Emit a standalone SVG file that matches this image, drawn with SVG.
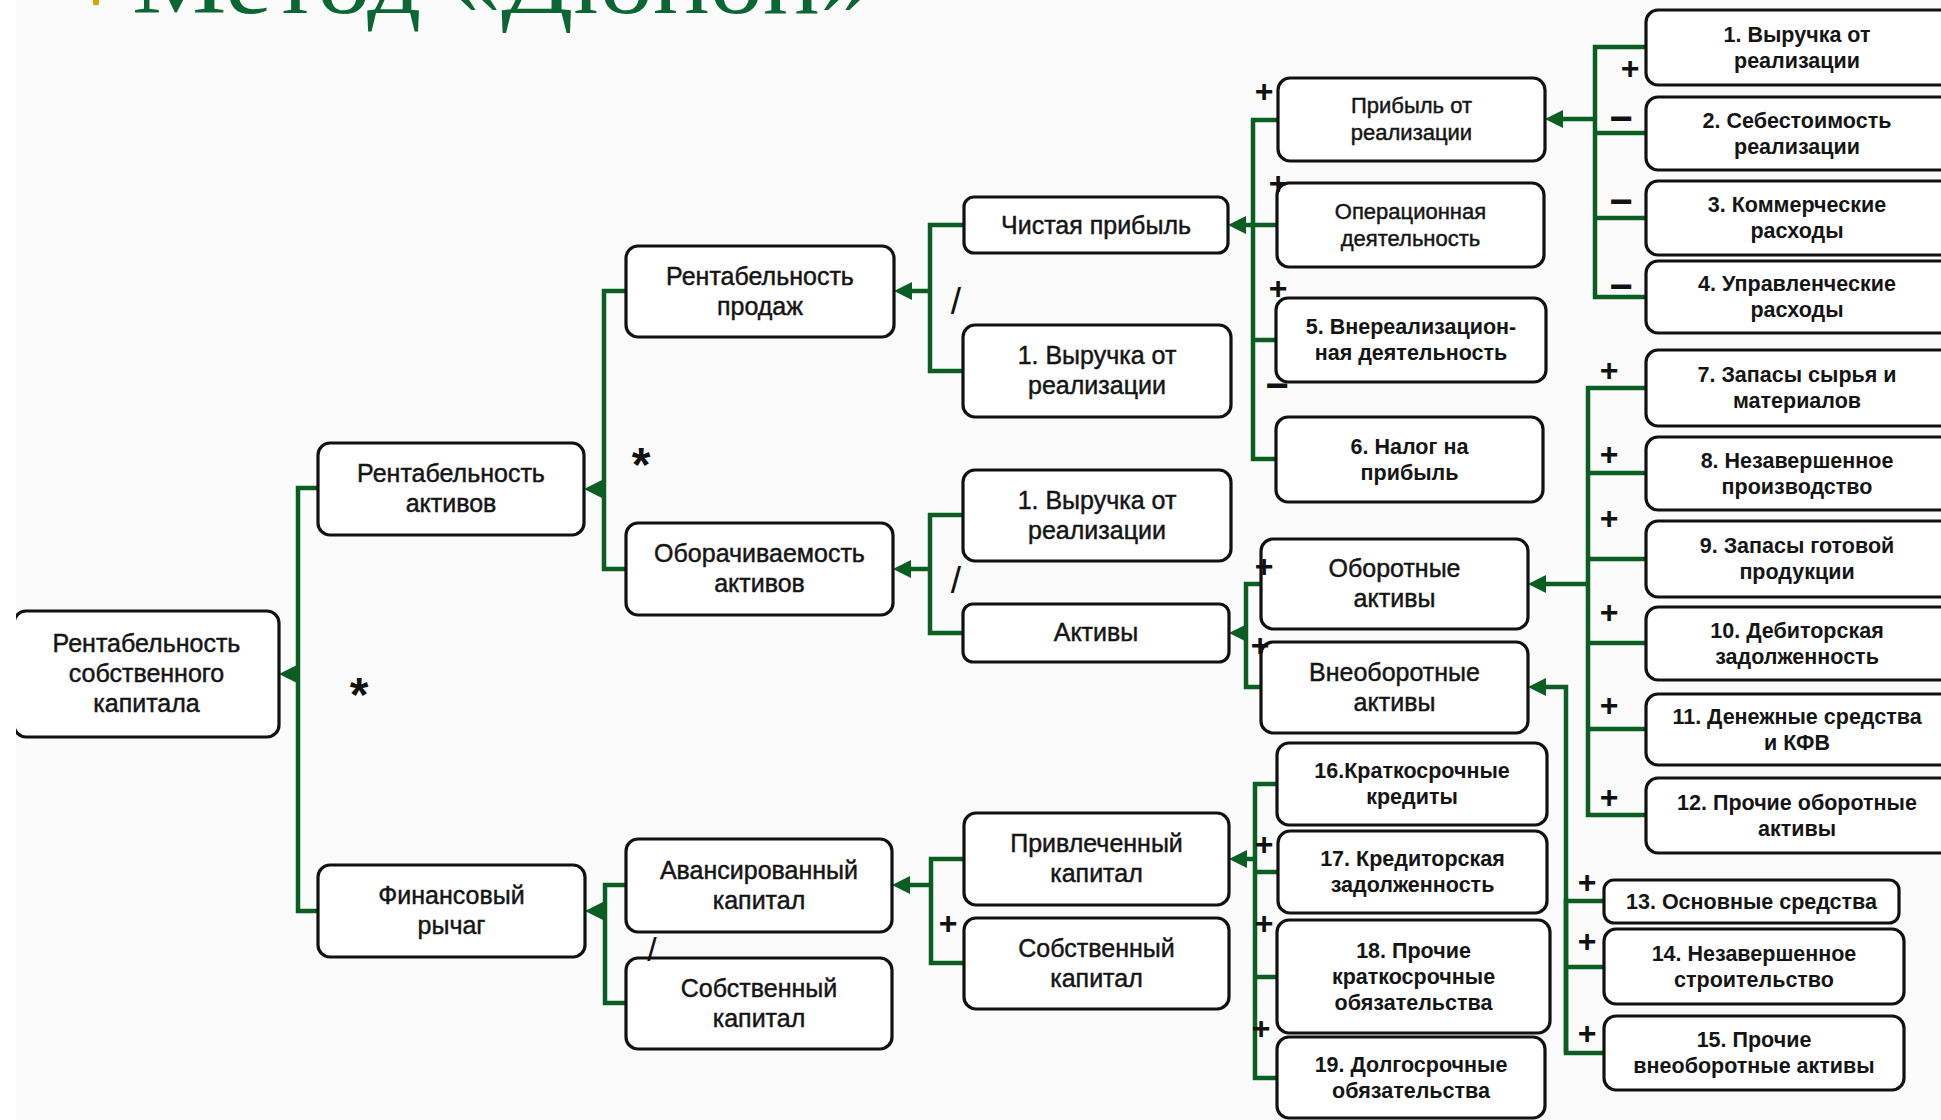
<svg xmlns="http://www.w3.org/2000/svg" width="1941" height="1120" viewBox="0 0 1941 1120">
<style>
.box{fill:#fff;stroke:#111;stroke-width:3.2}
.t25{font-family:"Liberation Sans",Arial,sans-serif;font-size:25px;fill:#151515;stroke:#151515;stroke-width:0.45;text-anchor:middle}
.t22{font-family:"Liberation Sans",Arial,sans-serif;font-size:22px;fill:#151515;stroke:#151515;stroke-width:0.45;text-anchor:middle}
.b20{font-family:"Liberation Sans",Arial,sans-serif;font-size:21.5px;font-weight:bold;fill:#151515;text-anchor:middle}
.sg{font-family:"Liberation Sans",Arial,sans-serif;font-weight:bold;fill:#111;text-anchor:middle}
.pl{font-size:32px}
.mi{font-size:40px}
.st{font-size:48px}
.sl{font-family:"Liberation Sans",Arial,sans-serif;font-size:37px;fill:#111;text-anchor:middle}
.cn{fill:none;stroke:#0b5e22;stroke-width:4.5;stroke-linejoin:miter}
.ar{fill:none;stroke:#0b5e22;stroke-width:4.5;marker-end:url(#arr)}
</style>
<defs>
<marker id="arr" viewBox="0 0 18 18" markerWidth="18" markerHeight="18" refX="6" refY="9" orient="auto" markerUnits="userSpaceOnUse">
<path d="M0,0 L18,9 L0,18 z" fill="#0b5e22"/>
</marker>
</defs>
<rect x="0" y="0" width="1941" height="1120" fill="#fbfbfb"/>
<g id="title">
<rect x="93" y="-3" width="6" height="8" fill="#d9a300"/>
<text x="132" y="13" font-family="Liberation Serif,Times New Roman,serif" font-size="96" fill="#0a6632" textLength="741" lengthAdjust="spacingAndGlyphs">Метод «Дюпон»</text>
</g>
<g id="connectors">
<path class="cn" d="M318,488 H298 V911 H318"/>
<path class="ar" d="M298,674 H291"/>
<path class="cn" d="M626,291 H604 V569 H626"/>
<path class="ar" d="M604,489 H596"/>
<path class="cn" d="M964,225 H930 V371 H963"/>
<path class="ar" d="M930,291 H906"/>
<path class="cn" d="M963,515 H930 V633 H963"/>
<path class="ar" d="M930,569 H905"/>
<path class="cn" d="M626,885 H605 V1003 H626"/>
<path class="ar" d="M605,911 H597"/>
<path class="cn" d="M964,859 H931 V963 H964"/>
<path class="ar" d="M931,885 H904"/>
<path class="cn" d="M1278,120 H1253 V459 H1276 M1253,225 H1277 M1253,340 H1276"/>
<path class="ar" d="M1253,225 H1240"/>
<path class="cn" d="M1646,47 H1595 V297 H1646 M1595,133 H1646 M1595,218 H1646"/>
<path class="ar" d="M1595,119 H1557"/>
<path class="cn" d="M1261,584 H1246 V687 H1261"/>
<path class="ar" d="M1246,633 H1241"/>
<path class="cn" d="M1646,388 H1588 V815 H1646 M1588,473 H1646 M1588,559 H1646 M1588,643 H1646 M1588,729 H1646"/>
<path class="ar" d="M1588,584 H1540"/>
<path class="cn" d="M1604,1053 H1566 V901 H1604 M1566,967 H1604"/>
<path class="ar" d="M1566,1053 V687 H1540"/>
<path class="cn" d="M1277,784 H1255 V1078 H1277 M1255,872 H1278 M1255,977 H1277"/>
<path class="ar" d="M1255,859 H1241"/>
</g>
<g id="n-root"><rect class="box" x="14" y="611" width="265" height="126" rx="12"/><text class="t25"><tspan x="146.5" y="652">Рентабельность</tspan><tspan x="146.5" y="682">собственного</tspan><tspan x="146.5" y="712">капитала</tspan></text></g>
<g id="n-ra"><rect class="box" x="318" y="443" width="266" height="92" rx="12"/><text class="t25"><tspan x="451" y="482">Рентабельность</tspan><tspan x="451" y="512">активов</tspan></text></g>
<g id="n-fr"><rect class="box" x="318" y="865" width="267" height="92" rx="12"/><text class="t25"><tspan x="451.5" y="904">Финансовый</tspan><tspan x="451.5" y="934">рычаг</tspan></text></g>
<g id="n-rp"><rect class="box" x="626" y="246" width="268" height="91" rx="12"/><text class="t25"><tspan x="760" y="284.5">Рентабельность</tspan><tspan x="760" y="314.5">продаж</tspan></text></g>
<g id="n-oa"><rect class="box" x="626" y="523" width="267" height="92" rx="12"/><text class="t25"><tspan x="759.5" y="562">Оборачиваемость</tspan><tspan x="759.5" y="592">активов</tspan></text></g>
<g id="n-ak"><rect class="box" x="626" y="839" width="266" height="93" rx="12"/><text class="t25"><tspan x="759" y="878.5">Авансированный</tspan><tspan x="759" y="908.5">капитал</tspan></text></g>
<g id="n-sk1"><rect class="box" x="626" y="958" width="266" height="91" rx="12"/><text class="t25"><tspan x="759" y="996.5">Собственный</tspan><tspan x="759" y="1026.5">капитал</tspan></text></g>
<g id="n-chp"><rect class="box" x="964" y="197" width="264" height="56" rx="10"/><text class="t25" x="1096" y="234">Чистая прибыль</text></g>
<g id="n-v1a"><rect class="box" x="963" y="325" width="268" height="92" rx="12"/><text class="t25"><tspan x="1097" y="364">1. Выручка от</tspan><tspan x="1097" y="394">реализации</tspan></text></g>
<g id="n-v1b"><rect class="box" x="963" y="470" width="268" height="91" rx="12"/><text class="t25"><tspan x="1097" y="508.5">1. Выручка от</tspan><tspan x="1097" y="538.5">реализации</tspan></text></g>
<g id="n-akt"><rect class="box" x="963" y="604" width="266" height="58" rx="10"/><text class="t25" x="1096" y="641">Активы</text></g>
<g id="n-pk"><rect class="box" x="964" y="813" width="265" height="92" rx="12"/><text class="t25"><tspan x="1096.5" y="852">Привлеченный</tspan><tspan x="1096.5" y="882">капитал</tspan></text></g>
<g id="n-sk2"><rect class="box" x="964" y="918" width="265" height="91" rx="12"/><text class="t25"><tspan x="1096.5" y="956.5">Собственный</tspan><tspan x="1096.5" y="986.5">капитал</tspan></text></g>
<g id="n-pr"><rect class="box" x="1278" y="78" width="267" height="83" rx="12"/><text class="t22"><tspan x="1411.5" y="113">Прибыль от</tspan><tspan x="1411.5" y="140">реализации</tspan></text></g>
<g id="n-oper"><rect class="box" x="1277" y="183" width="267" height="84" rx="12"/><text class="t22"><tspan x="1410.5" y="218.5">Операционная</tspan><tspan x="1410.5" y="245.5">деятельность</tspan></text></g>
<g id="n-vnr"><rect class="box" x="1276" y="298" width="270" height="84" rx="12"/><text class="b20"><tspan x="1411" y="334">5. Внереализацион-</tspan><tspan x="1411" y="360">ная деятельность</tspan></text></g>
<g id="n-nal"><rect class="box" x="1276" y="417" width="267" height="85" rx="12"/><text class="b20"><tspan x="1409.5" y="453.5">6. Налог на</tspan><tspan x="1409.5" y="479.5">прибыль</tspan></text></g>
<g id="n-obor"><rect class="box" x="1261" y="539" width="267" height="90" rx="12"/><text class="t25"><tspan x="1394.5" y="577">Оборотные</tspan><tspan x="1394.5" y="607">активы</tspan></text></g>
<g id="n-vneob"><rect class="box" x="1261" y="642" width="267" height="91" rx="12"/><text class="t25"><tspan x="1394.5" y="680.5">Внеоборотные</tspan><tspan x="1394.5" y="710.5">активы</tspan></text></g>
<g id="n-16"><rect class="box" x="1277" y="743" width="270" height="82" rx="12"/><text class="b20"><tspan x="1412" y="778">16.Краткосрочные</tspan><tspan x="1412" y="804">кредиты</tspan></text></g>
<g id="n-17"><rect class="box" x="1278" y="831" width="269" height="82" rx="12"/><text class="b20"><tspan x="1412.5" y="866">17. Кредиторская</tspan><tspan x="1412.5" y="892">задолженность</tspan></text></g>
<g id="n-18"><rect class="box" x="1277" y="920" width="273" height="113" rx="12"/><text class="b20"><tspan x="1413.5" y="957.5">18. Прочие</tspan><tspan x="1413.5" y="983.5">краткосрочные</tspan><tspan x="1413.5" y="1009.5">обязательства</tspan></text></g>
<g id="n-19"><rect class="box" x="1277" y="1037" width="268" height="81" rx="12"/><text class="b20"><tspan x="1411" y="1071.5">19. Долгосрочные</tspan><tspan x="1411" y="1097.5">обязательства</tspan></text></g>
<g id="n-r1"><rect class="box" x="1646" y="10" width="320" height="75" rx="12"/><text class="b20"><tspan x="1797" y="41.5">1. Выручка от</tspan><tspan x="1797" y="67.5">реализации</tspan></text></g>
<g id="n-r2"><rect class="box" x="1646" y="97" width="320" height="73" rx="12"/><text class="b20"><tspan x="1797" y="127.5">2. Себестоимость</tspan><tspan x="1797" y="153.5">реализации</tspan></text></g>
<g id="n-r3"><rect class="box" x="1646" y="181" width="320" height="74" rx="12"/><text class="b20"><tspan x="1797" y="212">3. Коммерческие</tspan><tspan x="1797" y="238">расходы</tspan></text></g>
<g id="n-r4"><rect class="box" x="1646" y="261" width="320" height="72" rx="12"/><text class="b20"><tspan x="1797" y="291">4. Управленческие</tspan><tspan x="1797" y="317">расходы</tspan></text></g>
<g id="n-r7"><rect class="box" x="1646" y="350" width="320" height="76" rx="12"/><text class="b20"><tspan x="1797" y="382">7. Запасы сырья и</tspan><tspan x="1797" y="408">материалов</tspan></text></g>
<g id="n-r8"><rect class="box" x="1646" y="437" width="320" height="73" rx="12"/><text class="b20"><tspan x="1797" y="467.5">8. Незавершенное</tspan><tspan x="1797" y="493.5">производство</tspan></text></g>
<g id="n-r9"><rect class="box" x="1646" y="521" width="320" height="76" rx="12"/><text class="b20"><tspan x="1797" y="553">9. Запасы готовой</tspan><tspan x="1797" y="579">продукции</tspan></text></g>
<g id="n-r10"><rect class="box" x="1646" y="607" width="320" height="73" rx="12"/><text class="b20"><tspan x="1797" y="637.5">10. Дебиторская</tspan><tspan x="1797" y="663.5">задолженность</tspan></text></g>
<g id="n-r11"><rect class="box" x="1646" y="694" width="320" height="71" rx="12"/><text class="b20"><tspan x="1797" y="723.5">11. Денежные средства</tspan><tspan x="1797" y="749.5">и КФВ</tspan></text></g>
<g id="n-r12"><rect class="box" x="1646" y="778" width="320" height="75" rx="12"/><text class="b20"><tspan x="1797" y="809.5">12. Прочие оборотные</tspan><tspan x="1797" y="835.5">активы</tspan></text></g>
<g id="n-13"><rect class="box" x="1604" y="880" width="295" height="43" rx="10"/><text class="b20" x="1751.5" y="908.5">13. Основные средства</text></g>
<g id="n-14"><rect class="box" x="1604" y="929" width="300" height="75" rx="12"/><text class="b20"><tspan x="1754" y="960.5">14. Незавершенное</tspan><tspan x="1754" y="986.5">строительство</tspan></text></g>
<g id="n-15"><rect class="box" x="1604" y="1016" width="300" height="74" rx="12"/><text class="b20"><tspan x="1754" y="1047">15. Прочие</tspan><tspan x="1754" y="1073">внеоборотные активы</tspan></text></g>
<g id="labels">
<text class="sg st" x="359" y="711">*</text>
<text class="sg st" x="641" y="481">*</text>
<text class="sl" x="956" y="314">/</text>
<text class="sl" x="956" y="593">/</text>
<text class="sl" x="652" y="961" style="font-size:34px">/</text>
<text class="sg pl" x="948" y="934">+</text>
<text class="sg pl" x="1264" y="102">+</text>
<text class="sg pl" x="1278" y="194">+</text>
<text class="sg pl" x="1278" y="299">+</text>
<text class="sg mi" x="1277" y="399">−</text>
<text class="sg pl" x="1630" y="79">+</text>
<text class="sg mi" x="1621" y="132">−</text>
<text class="sg mi" x="1621" y="215">−</text>
<text class="sg mi" x="1621" y="300">−</text>
<text class="sg pl" x="1609" y="381">+</text>
<text class="sg pl" x="1609" y="465">+</text>
<text class="sg pl" x="1609" y="529">+</text>
<text class="sg pl" x="1609" y="623">+</text>
<text class="sg pl" x="1609" y="716">+</text>
<text class="sg pl" x="1609" y="808">+</text>
<text class="sg pl" x="1264" y="577">+</text>
<text class="sg pl" x="1260" y="656">+</text>
<text class="sg pl" x="1587" y="893">+</text>
<text class="sg pl" x="1587" y="952">+</text>
<text class="sg pl" x="1587" y="1044">+</text>
<text class="sg pl" x="1264" y="855">+</text>
<text class="sg pl" x="1264" y="934">+</text>
<text class="sg pl" x="1261" y="1039">+</text>
</g>
<rect x="0" y="0" width="16" height="1120" fill="#fff"/>
</svg>
